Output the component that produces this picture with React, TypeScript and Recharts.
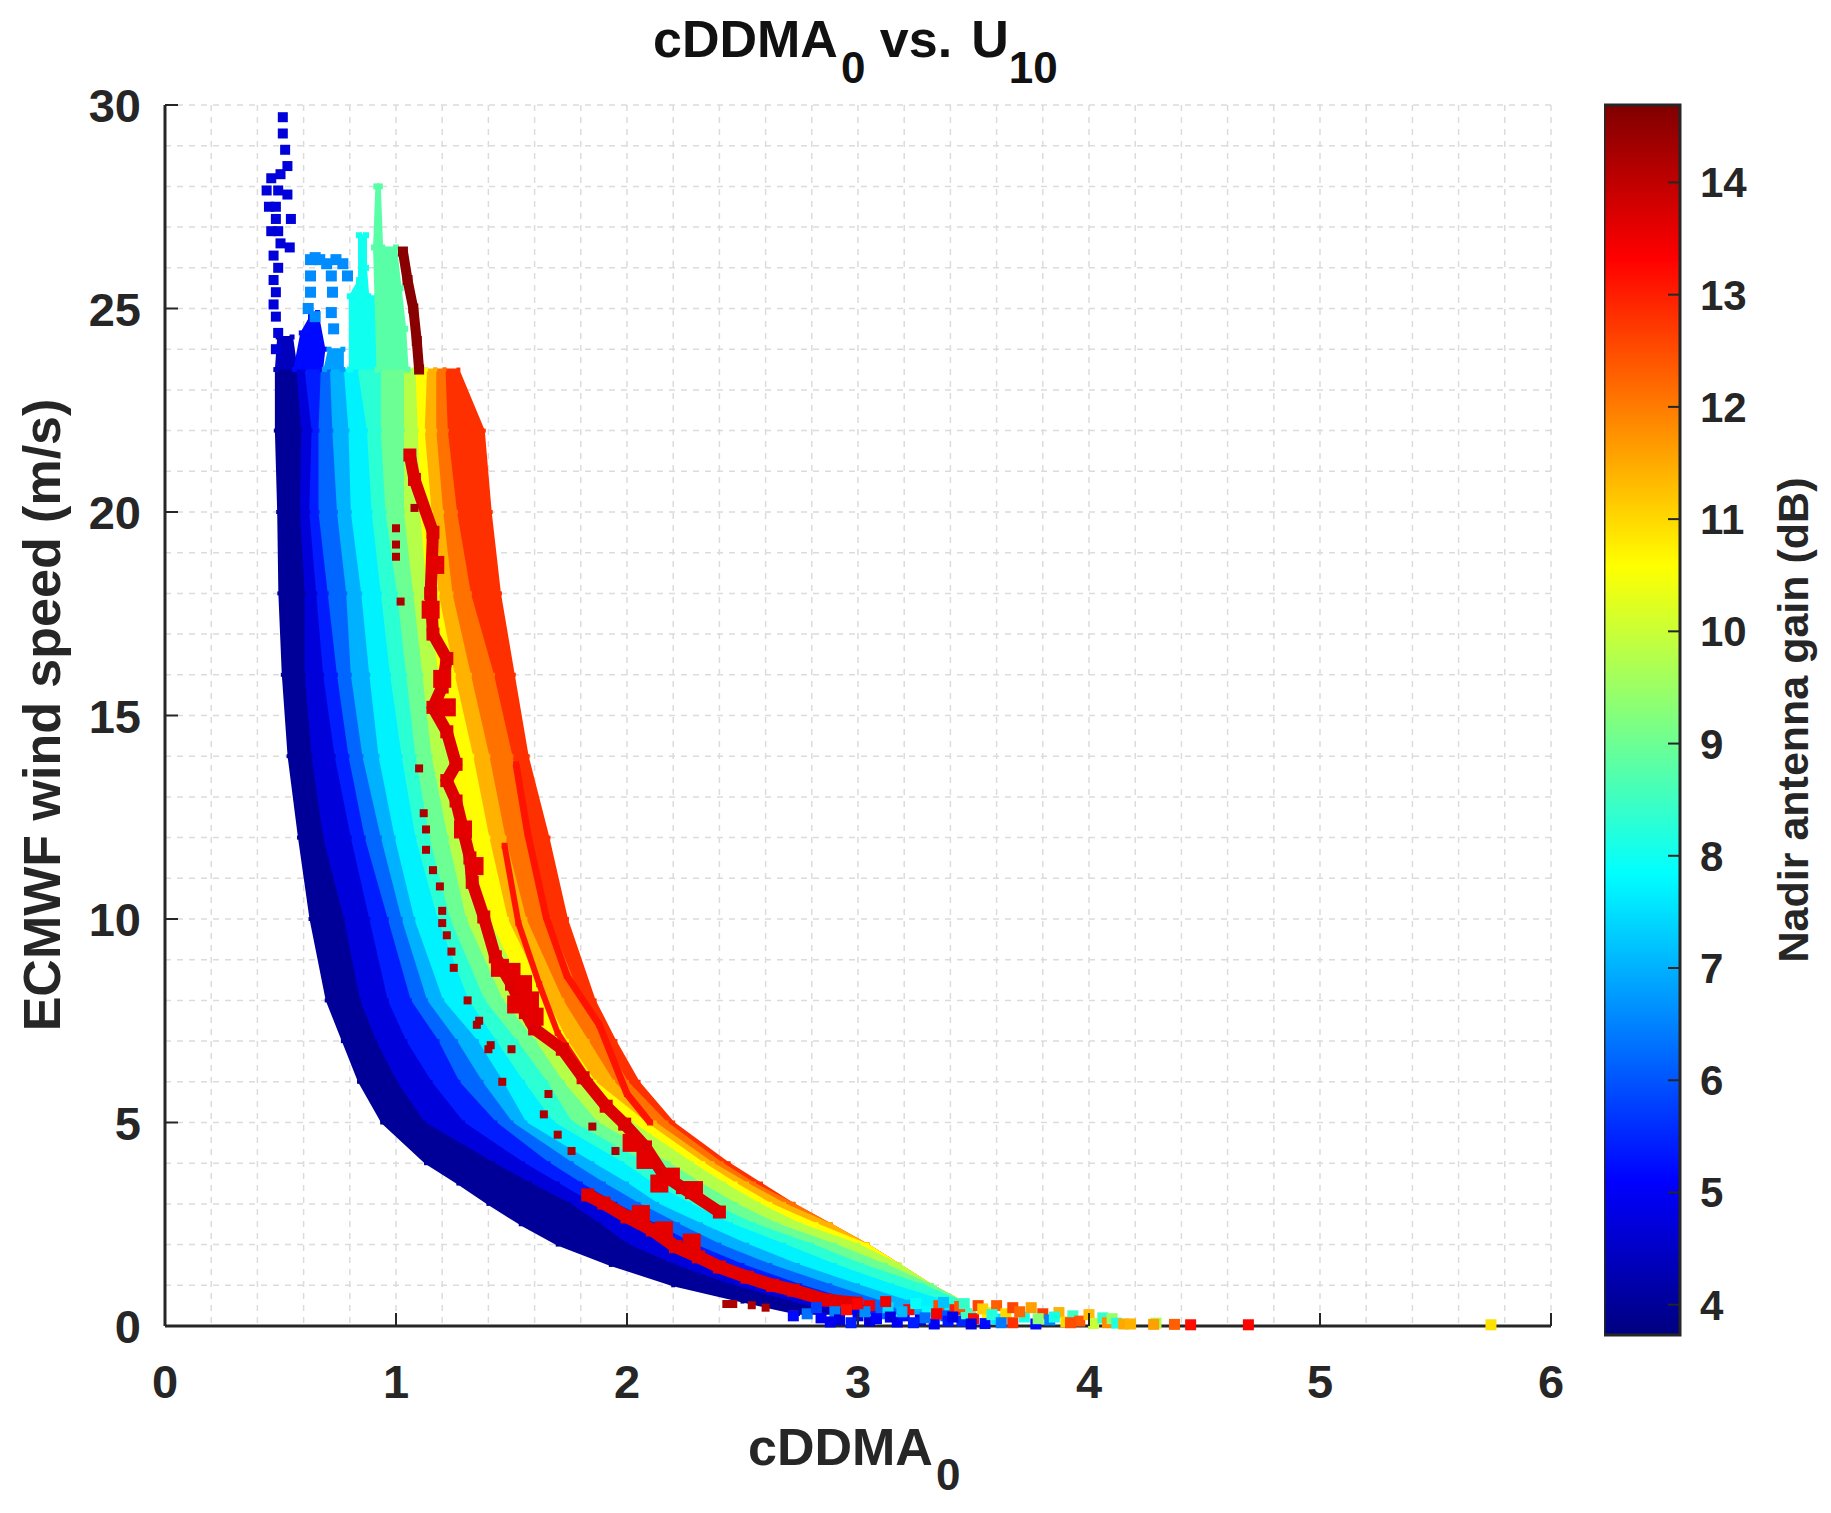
import React from "react";
import { ScatterChart, Scatter, XAxis, YAxis, CartesianGrid, ReferenceArea } from "recharts";

const windRows = [0.3, 0.6, 1, 1.5, 2, 2.5, 3, 3.5, 4, 5, 6, 7, 8, 10, 12, 14, 16, 18, 20, 22, 23.5];

// cDDMA0 of the boundaries between neighbouring gain bands at those wind speeds (left to right)
const edge00 = [2.74, 2.5, 2.2, 1.93, 1.7, 1.54, 1.4, 1.27, 1.13, 0.94, 0.84, 0.77, 0.7, 0.63, 0.58, 0.535, 0.51, 0.495, 0.49, 0.48, 0.48];
const edge01 = [2.9, 2.7, 2.45, 2.2, 2.0, 1.88, 1.75, 1.58, 1.42, 1.12, 1.0, 0.91, 0.84, 0.77, 0.68, 0.63, 0.6, 0.6, 0.58, 0.585, 0.565];
const edge02 = [3.0, 2.85, 2.6, 2.35, 2.15, 2.0, 1.85, 1.7, 1.55, 1.29, 1.15, 1.04, 0.96, 0.88, 0.8, 0.73, 0.68, 0.65, 0.62, 0.63, 0.6];
const edge03 = [3.1, 2.98, 2.75, 2.5, 2.29, 2.12, 1.95, 1.8, 1.66, 1.43, 1.27, 1.18, 1.06, 0.96, 0.86, 0.79, 0.74, 0.7, 0.66, 0.66, 0.67];
const edge04 = [3.2, 3.1, 2.88, 2.62, 2.4, 2.22, 2.05, 1.9, 1.76, 1.5, 1.37, 1.26, 1.13, 1.02, 0.93, 0.85, 0.8, 0.78, 0.74, 0.72, 0.71];
const edge05 = [3.3, 3.22, 3.0, 2.74, 2.52, 2.32, 2.13, 2.0, 1.85, 1.56, 1.46, 1.35, 1.2, 1.075, 0.99, 0.92, 0.88, 0.845, 0.8, 0.79, 0.77];
const edge06 = [3.45, 3.38, 3.15, 2.9, 2.68, 2.45, 2.27, 2.11, 1.98, 1.68, 1.55, 1.43, 1.31, 1.176, 1.08, 1.02, 0.97, 0.93, 0.89, 0.87, 0.83];
const edge07 = [3.5, 3.45, 3.28, 3.02, 2.8, 2.55, 2.36, 2.21, 2.08, 1.76, 1.65, 1.52, 1.38, 1.23, 1.14, 1.08, 1.04, 1.0, 0.95, 0.93, 0.93];
const edge08 = [3.5, 3.45, 3.32, 3.12, 2.9, 2.65, 2.47, 2.32, 2.18, 1.87, 1.72, 1.6, 1.46, 1.3, 1.22, 1.15, 1.11, 1.07, 1.03, 1.03, 1.03];
const edge09 = [3.5, 3.45, 3.32, 3.18, 3.0, 2.75, 2.57, 2.42, 2.28, 2.02, 1.8, 1.66, 1.57, 1.4, 1.28, 1.22, 1.18, 1.13, 1.1, 1.09, 1.08];
const edge10 = [3.5, 3.45, 3.32, 3.18, 3.04, 2.82, 2.62, 2.47, 2.33, 2.08, 1.86, 1.74, 1.65, 1.48, 1.4, 1.33, 1.25, 1.18, 1.15, 1.12, 1.13];
const edge11 = [3.5, 3.45, 3.32, 3.18, 3.04, 2.88, 2.68, 2.52, 2.37, 2.12, 1.94, 1.83, 1.72, 1.56, 1.47, 1.4, 1.32, 1.24, 1.2, 1.17, 1.17];
const edge12 = [3.5, 3.45, 3.32, 3.18, 3.04, 2.88, 2.72, 2.55, 2.41, 2.17, 2.0, 1.9, 1.8, 1.66, 1.57, 1.5, 1.42, 1.32, 1.26, 1.22, 1.21];
const edge13 = [3.5, 3.45, 3.32, 3.18, 3.04, 2.88, 2.72, 2.58, 2.44, 2.2, 2.05, 1.95, 1.86, 1.74, 1.66, 1.57, 1.51, 1.45, 1.41, 1.38, 1.27];

const edges = [edge00, edge01, edge02, edge03, edge04, edge05, edge06, edge07, edge08, edge09, edge10, edge11, edge12, edge13];
const bandGains = [4.0, 4.7, 5.4, 6.2, 7.0, 7.7, 8.3, 9.0, 9.8, 10.6, 11.4, 12.1, 12.8];

// Crest of the cloud above the bands: [cDDMA0, wind]
const crestNavyArea = [[0.48, 23.5], [0.49, 24.3], [0.55, 24.3], [0.57, 23.5]];
const crestBlueArea = [[0.56, 23.5], [0.59, 24.4], [0.63, 24.8], [0.66, 24.9], [0.69, 24], [0.68, 23.5]];
const crestSkyArea = [[0.69, 23.5], [0.71, 24.0], [0.77, 24.0], [0.77, 23.5]];
const crestCyanArea = [[0.8, 23.5], [0.8, 25.3], [0.84, 25.7], [0.84, 26.8], [0.87, 26.8], [0.87, 26.0], [0.88, 25.3], [0.92, 25.3], [0.92, 23.5]];
const crestGreenArea = [[0.92, 23.5], [0.905, 26.5], [0.915, 28], [0.93, 28], [0.94, 26.5], [1.0, 26.5], [1.02, 25.5], [1.04, 24.5], [1.05, 23.5]];
const crestDarkBlue = [[0.51, 29.7], [0.51, 29.3], [0.52, 28.9], [0.53, 28.5], [0.5, 28.3], [0.46, 28.2], [0.44, 27.9], [0.49, 27.9], [0.53, 27.8], [0.45, 27.5], [0.48, 27.5], [0.48, 27.2], [0.545, 27.2], [0.46, 26.9], [0.49, 26.9], [0.5, 26.6], [0.54, 26.5], [0.47, 26.3], [0.49, 26], [0.47, 25.7], [0.48, 25.4], [0.47, 25.1], [0.48, 24.8], [0.49, 24.4], [0.48, 24]];
const crestLightBlue = [[0.63, 26.2], [0.65, 26.25], [0.67, 26.2], [0.7, 26.1], [0.74, 26.2], [0.77, 26.1], [0.79, 25.8], [0.63, 25.8], [0.63, 25.4], [0.72, 25.8], [0.725, 25.4], [0.62, 25], [0.65, 24.8], [0.72, 24.9], [0.73, 24.5]];

// Red streaks: [cDDMA0, wind]
const streakTop = [[1.03, 26.4], [1.05, 25.7], [1.075, 25], [1.09, 24.2], [1.1, 23.5]];
const streakMain = [[1.06, 21.4], [1.08, 20.8], [1.16, 19.5], [1.15, 18], [1.16, 17], [1.22, 16.4], [1.2, 15.7], [1.16, 15.2], [1.22, 14.6], [1.26, 13.8], [1.22, 13.4], [1.26, 12.9], [1.29, 12.2], [1.32, 11.5], [1.33, 10.9], [1.38, 10.05], [1.43, 9.07], [1.5, 8.4], [1.56, 7.7], [1.6, 7.3], [1.72, 6.8], [1.81, 6.1], [1.91, 5.4], [1.99, 4.96], [2.08, 4.4], [2.16, 3.7], [2.24, 3.4], [2.4, 2.8]];
const streakLow = [[1.83, 3.22], [1.9, 3.02], [2.0, 2.68], [2.11, 2.36], [2.21, 1.95], [2.31, 1.7], [2.4, 1.45], [2.52, 1.2], [2.63, 1.0], [2.72, 0.88], [2.86, 0.64], [2.99, 0.56]];
const streakRight = [[1.52, 13.8], [1.57, 12.1], [1.65, 10.05], [1.74, 8.6], [1.88, 7.4], [2.0, 5.7], [2.1, 5.0]];
const streakInner = [[1.47, 11.8], [1.53, 9.9], [1.62, 8.4], [1.7, 7.2], [1.84, 6.0]];
const redBlobs = [[1.5, 8.7], [1.55, 8.4], [1.58, 8.0], [1.6, 7.6], [1.52, 7.9], [1.45, 8.8], [1.29, 12.2], [1.34, 11.3], [1.17, 18.7], [1.15, 17.6], [1.2, 15.9], [1.22, 15.2], [2.08, 4.08], [2.19, 3.67], [2.29, 3.34], [2.14, 3.5], [2.02, 4.5], [2.06, 2.75], [2.16, 2.35], [2.28, 2.05]];
const streakSpeck = [[1.0, 19.6], [1.0, 19.2], [1.0, 18.9], [1.02, 17.8], [1.08, 20.1], [1.1, 13.7], [1.12, 12.6], [1.13, 12.2], [1.13, 11.7], [1.16, 11.2], [1.19, 10.8], [1.2, 10.2], [1.2, 9.9], [1.22, 9.6], [1.24, 9.2], [1.25, 8.8], [1.31, 8.0], [1.35, 7.4], [1.4, 6.8], [1.5, 6.8], [1.36, 7.5], [1.41, 6.9], [1.46, 6.0], [1.66, 5.7], [1.64, 5.2], [1.7, 4.7], [1.76, 4.3], [1.85, 4.9], [1.95, 4.3], [2.43, 0.54], [2.46, 0.54], [2.54, 0.51], [2.6, 0.45], [2.72, 0.29]];

// Mixed markers along the axis
const tailX = [2.72, 2.78, 2.84, 2.9, 2.92, 2.95, 3.0, 3.05, 3.05, 3.1, 3.13, 3.17, 3.2, 3.22, 3.27, 3.3, 3.33, 3.35, 3.38, 3.42, 3.45, 3.47, 3.5, 3.52, 3.55, 3.56, 3.6, 3.6, 3.64, 3.67, 3.67, 3.72, 3.75, 3.77, 3.8, 3.83, 3.87, 3.9, 3.93, 3.96, 4.0, 4.02, 4.06, 4.08, 4.1, 4.12, 4.15, 4.18, 4.29, 4.28, 4.37, 4.44, 4.69, 5.74, 2.88, 2.97, 3.03, 3.08, 3.14, 3.19, 3.24, 3.29, 3.34, 3.39, 3.44, 3.49, 3.54, 3.58, 3.62, 3.7, 3.78, 3.85, 3.92, 3.0, 3.12, 3.25, 3.37, 2.82, 3.46, 3.41];
const tailU = [0.25, 0.3, 0.2, 0.35, 0.15, 0.4, 0.25, 0.12, 0.5, 0.3, 0.45, 0.1, 0.25, 0.4, 0.15, 0.35, 0.05, 0.5, 0.25, 0.4, 0.12, 0.3, 0.18, 0.5, 0.06, 0.33, 0.5, 0.17, 0.3, 0.08, 0.45, 0.22, 0.45, 0.05, 0.3, 0.15, 0.33, 0.1, 0.25, 0.12, 0.28, 0.06, 0.2, 0.08, 0.18, 0.07, 0.05, 0.05, 0.07, 0.04, 0.04, 0.03, 0.03, 0.03, 0.1, 0.08, 0.35, 0.18, 0.22, 0.35, 0.08, 0.2, 0.3, 0.12, 0.48, 0.05, 0.42, 0.28, 0.08, 0.35, 0.18, 0.22, 0.08, 0.55, 0.6, 0.55, 0.58, 0.45, 0.55, 0.22];
const tailGain = [5.2, 6.3, 5, 6.5, 4.8, 13.2, 5, 4.6, 13.4, 6.2, 7.5, 5, 5.2, 13.3, 4.8, 7.8, 5, 12.5, 6, 13, 5.5, 8.5, 13.2, 12.6, 5.2, 10.8, 12.3, 7.6, 11, 12.8, 12.6, 8.1, 11.6, 5.2, 12.7, 6.5, 11.4, 11, 8.5, 12.4, 11.3, 10, 8.4, 11.8, 9.5, 8.2, 11.5, 11.4, 9.7, 11.6, 12.3, 13.2, 13.3, 10.9, 4.9, 5.4, 6.6, 5.1, 4.8, 7.1, 5.4, 6.3, 13.4, 5.3, 12.4, 4.8, 11.1, 8.2, 6.4, 12.2, 9.3, 8.1, 12.5, 13.3, 13.5, 7.9, 7.2, 5.8, 8.4, 4.9];

const xTicks = [0, 1, 2, 3, 4, 5, 6];
const yTicks = [0, 5, 10, 15, 20, 25, 30];
const xGrid = [0.2, 0.4, 0.6, 0.8, 1, 1.2, 1.4, 1.6, 1.8, 2, 2.2, 2.4, 2.6, 2.8, 3, 3.2, 3.4, 3.6, 3.8, 4, 4.2, 4.4, 4.6, 4.8, 5, 5.2, 5.4, 5.6, 5.8, 6];
const yGrid = [1, 2, 3, 4, 5, 6, 7, 8, 9, 10, 11, 12, 13, 14, 15, 16, 17, 18, 19, 20, 21, 22, 23, 24, 25, 26, 27, 28, 29, 30];
const gainTicks = [4, 5, 6, 7, 8, 9, 10, 11, 12, 13, 14];
const gainMin = 3.73;
const gainMax = 14.69;

const clip = (v: number) => Math.max(0, Math.min(1, v));
const jetAt = (t: number) => {
  const c = (d: number) => Math.round(255 * clip(1.5 - Math.abs(4 * t - d)));
  return `rgb(${c(3)},${c(2)},${c(1)})`;
};
const jet = (g: number) => jetAt((g - gainMin) / (gainMax - gainMin));
const jetStops = [0, 0.125, 0.25, 0.375, 0.5, 0.625, 0.75, 0.875, 1];

const INK = "#262626";
const FONT = "'Liberation Sans', Arial, sans-serif";

const toPoints = (pairs: number[][]) => pairs.map(([x, y]) => ({ x, y }));
// A band runs up its left boundary and back down its right boundary
const bandOutline = (k: number) => {
  const up = windRows.map((y, i) => ({ x: edges[k][i], y }));
  const down = windRows.map((y, i) => ({ x: edges[k + 1][i], y })).reverse();
  return [...up, ...down, up[0]];
};
const tailPoints = tailX.map((x, i) => ({ x, y: tailU[i], gain: tailGain[i] }));

const square = (side: number, color?: string) => (p: any) => (
  <rect x={p.cx - side / 2} y={p.cy - side / 2} width={side} height={side} fill={color ?? jet(p.payload.gain)} />
);
const areaLine = (c: string) => ({ stroke: c, fill: c, strokeWidth: 2, strokeLinejoin: "round" as const });

const XTick = (p: any) => (
  <g>
    <line x1={p.x} x2={p.x} y1={p.y} y2={p.y - 13} stroke={INK} strokeWidth={2} />
    <text x={p.x} y={p.y + 72} textAnchor="middle" fontSize={47} fontWeight="bold" fill={INK} fontFamily={FONT}>{p.payload.value}</text>
  </g>
);
const YTick = (p: any) => (
  <g>
    <line x1={p.x} x2={p.x + 13} y1={p.y} y2={p.y} stroke={INK} strokeWidth={2} />
    <text x={p.x - 24} y={p.y + 17} textAnchor="end" fontSize={47} fontWeight="bold" fill={INK} fontFamily={FONT}>{p.payload.value}</text>
  </g>
);
const GainTick = (p: any) => (
  <g>
    <line x1={p.x - 12} x2={p.x} y1={p.y} y2={p.y} stroke={INK} strokeWidth={2} />
    <text x={p.x + 20} y={p.y + 15} textAnchor="start" fontSize={42} fontWeight="bold" fill={INK} fontFamily={FONT}>{p.payload.value}</text>
  </g>
);

const Captions = () => (
  <svg width={1831} height={1513} style={{ position: "absolute", left: 0, top: 0, pointerEvents: "none" }}>
    <g fontFamily={FONT} fontWeight="bold">
      <text x={653} y={57} fontSize={52} fill="#111">
        cDDMA<tspan dx={3} dy={26} fontSize={44}>0</tspan><tspan dy={-26}> vs.</tspan><tspan dx={19}>U</tspan><tspan dx={0} dy={26} fontSize={44}>10</tspan>
      </text>
      <text x={748} y={1465} fontSize={52} fill={INK}>
        cDDMA<tspan dx={3} dy={25} fontSize={44}>0</tspan>
      </text>
      <text transform="translate(60 715) rotate(-90)" textAnchor="middle" fontSize={52} fill={INK}>ECMWF wind speed (m/s)</text>
      <text transform="translate(1808 720) rotate(-90)" textAnchor="middle" fontSize={43} fill={INK}>Nadir antenna gain (dB)</text>
    </g>
  </svg>
);

export default function App() {
  const order = bandGains.map((_, k) => k).reverse();
  return (
    <div style={{ position: "relative", width: 1831, height: 1513, margin: -8, background: "#fff" }}>
      <div style={{ position: "absolute", left: 0, top: 0 }}>
        <ScatterChart width={1831} height={1513} margin={{ top: 105, right: 280, bottom: 0, left: 0 }}>
          <CartesianGrid
            horizontal
            vertical
            horizontalValues={yGrid}
            verticalValues={xGrid}
            stroke="#dcdcdc"
            strokeWidth={1.5}
            strokeDasharray="6 6"
          />
          <XAxis type="number" dataKey="x" domain={[0, 6]} ticks={xTicks} height={187} tickLine={false} tickSize={0} tickMargin={0} interval={0} axisLine={{ stroke: INK, strokeWidth: 3 }} tick={XTick} />
          <YAxis type="number" dataKey="y" domain={[0, 30]} ticks={yTicks} width={165} tickLine={false} tickSize={0} tickMargin={0} interval={0} axisLine={{ stroke: INK, strokeWidth: 3 }} tick={YTick} />
          {order.map((k) => (
            <Scatter
              key={bandGains[k]}
              name={`gain ${bandGains[k]}`}
              data={bandOutline(k)}
              isAnimationActive={false}
              shape={square(4, jet(bandGains[k]))}
              line={areaLine(jet(bandGains[k]))}
              lineType="joint"
            />
          ))}
          <Scatter name="crest navy" data={toPoints(crestNavyArea)} isAnimationActive={false} shape={square(5, jet(4.4))} line={areaLine(jet(4.4))} lineType="joint" />
          <Scatter name="crest blue" data={toPoints(crestBlueArea)} isAnimationActive={false} shape={square(5, jet(5.2))} line={areaLine(jet(5.2))} lineType="joint" />
          <Scatter name="crest sky" data={toPoints(crestSkyArea)} isAnimationActive={false} shape={square(5, jet(6.8))} line={areaLine(jet(6.8))} lineType="joint" />
          <Scatter name="crest cyan" data={toPoints(crestCyanArea)} isAnimationActive={false} shape={square(6, jet(8.0))} line={areaLine(jet(8.0))} lineType="joint" />
          <Scatter name="crest green" data={toPoints(crestGreenArea)} isAnimationActive={false} shape={square(6, jet(8.8))} line={areaLine(jet(8.8))} lineType="joint" />
          <Scatter name="crest dark blue" data={toPoints(crestDarkBlue)} isAnimationActive={false} shape={square(10, jet(4.7))} />
          <Scatter name="crest light blue" data={toPoints(crestLightBlue)} isAnimationActive={false} shape={square(11, jet(6.6))} />
          <Scatter name="streak right" data={toPoints(streakRight)} isAnimationActive={false} shape={square(6, jet(13.1))} line={{ stroke: jet(13.1), strokeWidth: 7 }} lineType="joint" />
          <Scatter name="streak inner" data={toPoints(streakInner)} isAnimationActive={false} shape={square(6, jet(13.1))} line={{ stroke: jet(13.1), strokeWidth: 6 }} lineType="joint" />
          <Scatter name="streak main" data={toPoints(streakMain)} isAnimationActive={false} shape={square(13, jet(13.7))} line={{ stroke: jet(13.7), strokeWidth: 12 }} lineType="joint" />
          <Scatter name="red blobs" data={toPoints(redBlobs)} isAnimationActive={false} shape={square(18, jet(13.6))} />
          <Scatter name="streak low" data={toPoints(streakLow)} isAnimationActive={false} shape={square(13, jet(13.6))} line={{ stroke: jet(13.6), strokeWidth: 13 }} lineType="joint" />
          <Scatter name="streak top" data={toPoints(streakTop)} isAnimationActive={false} shape={square(10, jet(14.6))} line={{ stroke: jet(14.6), strokeWidth: 10 }} lineType="joint" />
          <Scatter name="specks" data={toPoints(streakSpeck)} isAnimationActive={false} shape={square(8, jet(14.2))} />
          <Scatter name="tail" data={tailPoints} isAnimationActive={false} shape={square(11)} />
        </ScatterChart>
      </div>
      <div style={{ position: "absolute", left: 1604, top: 0 }}>
        <ScatterChart width={227} height={1513} margin={{ top: 105, right: 0, bottom: 178, left: 0 }}>
          <defs>
            <linearGradient id="jetRamp" x1="0" y1="1" x2="0" y2="0">
              {jetStops.map((t) => (
                <stop key={t} offset={t} stopColor={jetAt(t)} />
              ))}
            </linearGradient>
          </defs>
          <XAxis type="number" dataKey="x" domain={[0, 1]} hide />
          <YAxis type="number" dataKey="y" orientation="right" domain={[gainMin, gainMax]} ticks={gainTicks} width={151} tickLine={false} tickSize={0} tickMargin={0} interval={0} axisLine={false} tick={GainTick} />
          <ReferenceArea x1={0} x2={1} y1={gainMin} y2={gainMax} fill="url(#jetRamp)" fillOpacity={1} stroke={INK} strokeWidth={3} />
          <Scatter data={gainTicks.map((y) => ({ x: 0.5, y }))} isAnimationActive={false} shape={() => <g />} />
        </ScatterChart>
      </div>
      <Captions />
    </div>
  );
}
